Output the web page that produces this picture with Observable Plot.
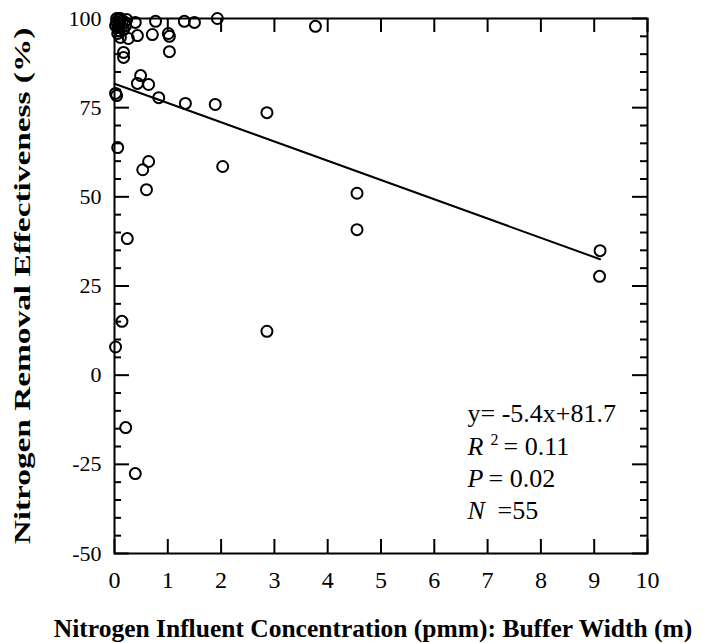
<!DOCTYPE html>
<html>
<head>
<meta charset="utf-8">
<script src="https://cdn.jsdelivr.net/npm/d3@7"></script>
<script src="https://cdn.jsdelivr.net/npm/@observablehq/plot@0.6"></script>
<style>
  html, body { margin: 0; padding: 0; background: #fff; }
</style>
</head>
<body>
<div id="chart"></div>
<script>
// Buffer width (x) and nitrogen removal effectiveness (y)
const bufferWidth = [
  0.04, 0.08, 0.11, 0.15, 0.19, 0.04, 0.09, 0.06, 0.13, 0.21, 0.08, 0.17, 0.02, 0.23, 0.11, 0.06,
  0.39, 0.77, 1.31, 1.50, 1.93, 3.77,
  0.43, 0.71, 1.01, 1.03, 0.26, 0.11, 0.17, 0.17, 1.03,
  0.49, 0.43, 0.64, 0.83, 1.33, 1.89, 0.02, 0.04, 2.86,
  0.06, 0.64, 0.53, 0.60, 2.03, 4.55, 4.55, 9.11, 9.10,
  0.24, 0.14, 0.02, 2.86, 0.21, 0.39
];
const removalEff = [
  100, 100, 99.7, 99.4, 98.9, 99.1, 98.3, 97.5, 97.5, 98.0, 96.6, 96.9, 98.0, 99.7, 100, 95.8,
  98.9, 99.2, 99.2, 98.9, 100, 97.8,
  95.2, 95.5, 95.8, 95.0, 94.4, 94.7, 90.5, 89.1, 90.7,
  84.0, 81.8, 81.5, 77.8, 76.2, 75.9, 79.0, 78.4, 73.6,
  63.8, 59.9, 57.6, 52.0, 58.5, 51.0, 40.8, 34.9, 27.7,
  38.3, 15.1, 7.9, 12.3, -14.7, -27.6
];
const xTicks = [0, 1, 2, 3, 4, 5, 6, 7, 8, 9, 10];
const yTicks = [-50, -25, 0, 25, 50, 75, 100];
const yMinorTicks = d3.range(-50, 101, 5).filter(v => v % 25 !== 0);
const slope = -5.4;
const intercept = 81.7;
const xLabel = "Nitrogen Influent Concentration (pmm): Buffer Width (m)";
const yLabel = "Nitrogen Removal Effectiveness (%)";

const points = bufferWidth.map((x, i) => ({x, y: removalEff[i]}));
const fitX = [0, d3.max(bufferWidth)];
const fit = fitX.map(x => ({x, y: intercept + slope * x}));

const W = 703, H = 643, ML = 114, MR = 56, MT = 18, MB = 90;
const FW = W - ML - MR, FH = H - MT - MB;
const font = "'Liberation Serif', 'Times New Roman', serif";
const ann = {frameAnchor: "top-left", textAnchor: "start", lineAnchor: "middle", fontSize: 26};

const chart = Plot.plot({
  width: W, height: H,
  marginLeft: ML, marginRight: MR, marginTop: MT, marginBottom: MB,
  x: {domain: [0, 10]},
  y: {domain: [-50, 100]},
  style: {fontFamily: font, fontSize: "22px", color: "black", background: "white"},
  marks: [
    // inward major ticks on all four sides, minor ticks on the y sides
    Plot.tickY(yTicks, {stroke: "black", strokeWidth: 2, insetRight: FW - 15}),
    Plot.tickY(yTicks, {stroke: "black", strokeWidth: 2, insetLeft: FW - 15}),
    Plot.tickY(yMinorTicks, {stroke: "black", strokeWidth: 2, insetRight: FW - 7}),
    Plot.tickY(yMinorTicks, {stroke: "black", strokeWidth: 2, insetLeft: FW - 7}),
    Plot.tickX(xTicks, {stroke: "black", strokeWidth: 2, insetTop: FH - 14}),
    Plot.tickX(xTicks, {stroke: "black", strokeWidth: 2, insetBottom: FH - 14}),
    Plot.axisX({ticks: xTicks, tickSize: 0, tickPadding: 17, tickFormat: d => String(d), label: null, fontSize: 24}),
    Plot.axisY({ticks: yTicks, tickSize: 0, tickPadding: 13, tickFormat: d => String(d), label: null, fontSize: 22}),
    Plot.frame({stroke: "black", strokeWidth: 2}),
    Plot.line(fit, {x: "x", y: "y", stroke: "black", strokeWidth: 2}),
    Plot.dot(points, {x: "x", y: "y", r: 5.5, stroke: "black", strokeWidth: 2, fill: "none"}),
    Plot.text([xLabel], {frameAnchor: "bottom", dy: 75, dx: -8, fontWeight: "bold", fontSize: 25.5, textAnchor: "middle", lineAnchor: "middle"}),
    Plot.text([yLabel], {frameAnchor: "left", dx: -92, rotate: -90, fontWeight: "bold", fontSize: 23, textAnchor: "middle", lineAnchor: "middle"}),
    // regression annotation
    Plot.text(["y= -5.4x+81.7"], {...ann, dx: 353, dy: 395}),
    Plot.text(["R"], {...ann, dx: 353, dy: 428, fontStyle: "italic"}),
    Plot.text(["2"], {...ann, dx: 376, dy: 421, fontSize: 16}),
    Plot.text(["= 0.11"], {...ann, dx: 389, dy: 428}),
    Plot.text(["P"], {...ann, dx: 353, dy: 460, fontStyle: "italic"}),
    Plot.text(["= 0.02"], {...ann, dx: 374, dy: 460}),
    Plot.text(["N"], {...ann, dx: 353, dy: 492, fontStyle: "italic"}),
    Plot.text(["=55"], {...ann, dx: 383, dy: 492})
  ]
});
// stretch the vertical axis title along its length to match the reference proportions
d3.select(chart).selectAll("text")
  .filter(function() { return this.textContent === yLabel; })
  .attr("transform", function() { return (this.getAttribute("transform") || "") + " scale(1.45,1)"; });
document.getElementById("chart").appendChild(chart);
</script>
</body>
</html>
